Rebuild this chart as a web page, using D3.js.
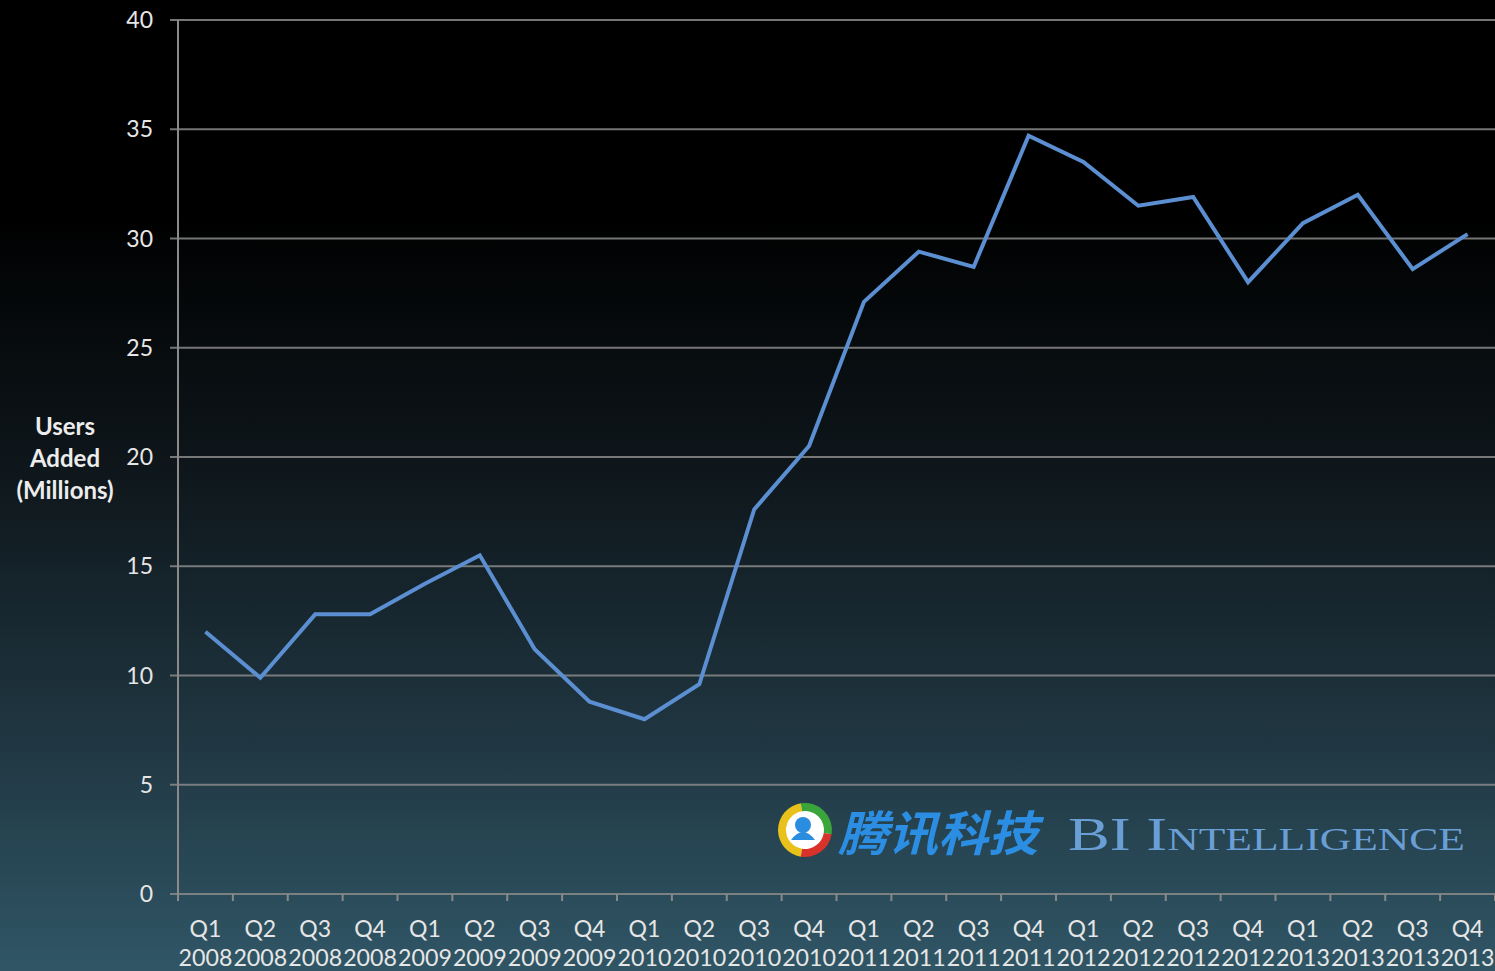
<!DOCTYPE html>
<html><head><meta charset="utf-8">
<script src="https://cdn.jsdelivr.net/npm/d3@7"></script>
<style>html,body{margin:0;padding:0;background:#000;overflow:hidden}</style>
</head><body>
<svg id="c" width="1495" height="971"></svg>
<script>
const quarters = ["Q1","Q2","Q3","Q4","Q1","Q2","Q3","Q4","Q1","Q2","Q3","Q4","Q1","Q2","Q3","Q4","Q1","Q2","Q3","Q4","Q1","Q2","Q3","Q4"];
const years = ["2008","2008","2008","2008","2009","2009","2009","2009","2010","2010","2010","2010","2011","2011","2011","2011","2012","2012","2012","2012","2013","2013","2013","2013"];
const usersAdded = [12.0,9.9,12.8,12.8,14.2,15.5,11.2,8.8,8.0,9.6,17.6,20.5,27.1,29.4,28.7,34.7,33.5,31.5,31.9,28.0,30.7,32.0,28.6,30.2];
const yTicks = [0,5,10,15,20,25,30,35,40];

(function(){
const W=1495,H=971;
const svg=d3.select("#c");
const defs=svg.append("defs");
const g=defs.append("linearGradient").attr("id","bg").attr("x1",0).attr("y1",0).attr("x2",0).attr("y2",1);
[[0,"#000000"],[0.22,"#000000"],[0.5,"#0f181d"],[0.75,"#1f3540"],[1,"#305666"]].forEach(s=>g.append("stop").attr("offset",s[0]).attr("stop-color",s[1]));
svg.append("rect").attr("width",W).attr("height",H).attr("fill","url(#bg)");

const pl=178,pr=1495,pt=20,pb=894;
const keys=d3.range(quarters.length);
const x=d3.scaleBand().domain(keys).range([pl,pr]);
const y=d3.scaleLinear().domain([0,40]).range([pb,pt]);
const font="Lato, 'Open Sans', sans-serif";

svg.append("g").selectAll("line").data(yTicks).join("line")
 .attr("x1",pl-8).attr("x2",pr).attr("y1",d=>y(d)).attr("y2",d=>y(d))
 .attr("stroke","#8a8a8a").attr("stroke-width",2).attr("stroke-opacity",0.85);
svg.append("line").attr("x1",pl).attr("x2",pl).attr("y1",pt).attr("y2",pb+6)
 .attr("stroke","#8a8a8a").attr("stroke-width",2);
svg.append("g").selectAll("text").data(yTicks).join("text")
 .attr("x",153).attr("y",d=>y(d)).attr("dy","0.35em").attr("text-anchor","end")
 .attr("fill","#e6e6e6").attr("font-family",font).attr("font-size",23).text(d=>d);
svg.append("g").selectAll("line").data(d3.range(quarters.length+1)).join("line")
 .attr("x1",d=>pl+d*x.step()).attr("x2",d=>pl+d*x.step()).attr("y1",pb).attr("y2",pb+7)
 .attr("stroke","#8a8a8a").attr("stroke-width",2);
const xl=svg.append("g").attr("font-family",font).attr("font-size",23).attr("fill","#e6e6e6").attr("text-anchor","middle");
xl.selectAll("text.q").data(keys).join("text").attr("class","q")
 .attr("x",d=>x(d)+x.bandwidth()/2).attr("y",937).text(d=>quarters[d]);
xl.selectAll("text.yr").data(keys).join("text").attr("class","yr")
 .attr("x",d=>x(d)+x.bandwidth()/2).attr("y",966).attr("textLength",x.bandwidth()-1).attr("lengthAdjust","spacingAndGlyphs").text(d=>years[d]);

const t=svg.append("text").attr("font-family",font).attr("font-weight","bold").attr("font-size",24)
 .attr("fill","#ececec").attr("text-anchor","middle");
["Users","Added","(Millions)"].forEach((s,i)=>t.append("tspan").attr("x",65).attr("y",435+i*32).text(s));

const wm=svg.append("g");
const cx=805,cy=830;
const ring=[["#e8c21a",Math.PI*1.05,Math.PI*1.95],["#3aa53a",Math.PI*-0.05,Math.PI*0.55],["#d8322a",Math.PI*0.55,Math.PI*1.05]];
wm.append("circle").attr("cx",cx).attr("cy",cy).attr("r",26).attr("fill","#ffffff");
ring.forEach(r=>wm.append("path").attr("transform",`translate(${cx},${cy})`)
 .attr("d",d3.arc().innerRadius(19).outerRadius(27).startAngle(r[1]).endAngle(r[2])()).attr("fill",r[0]));
wm.append("circle").attr("cx",cx-2).attr("cy",cy-5).attr("r",8).attr("fill","#2a8de0");
wm.append("path").attr("d",`M${cx-14},${cy+10} Q${cx-2},${cy-6} ${cx+10},${cy+10} Z`).attr("fill","#2a8de0");
wm.append("text").attr("x",838).attr("y",851).attr("font-family","'Noto Sans CJK SC'").attr("font-weight","bold")
 .attr("font-style","italic").attr("font-size",48).attr("fill","#2b8ee2")
 .attr("textLength",200).attr("lengthAdjust","spacingAndGlyphs").text("腾讯科技");
wm.append("text").attr("x",1068).attr("y",850).attr("font-family","'Liberation Serif', serif")
 .attr("font-size",46).attr("font-variant","small-caps").attr("fill","#6a9fd6")
 .attr("textLength",397).attr("lengthAdjust","spacingAndGlyphs").text("BI Intelligence");

const line=d3.line().x((d,i)=>x(i)+x.bandwidth()/2).y(d=>y(d));
svg.append("path").datum(usersAdded).attr("d",line).attr("fill","none")
 .attr("stroke","#5b8fd2").attr("stroke-width",4).attr("stroke-linejoin","miter");
})();
</script>
</body></html>
